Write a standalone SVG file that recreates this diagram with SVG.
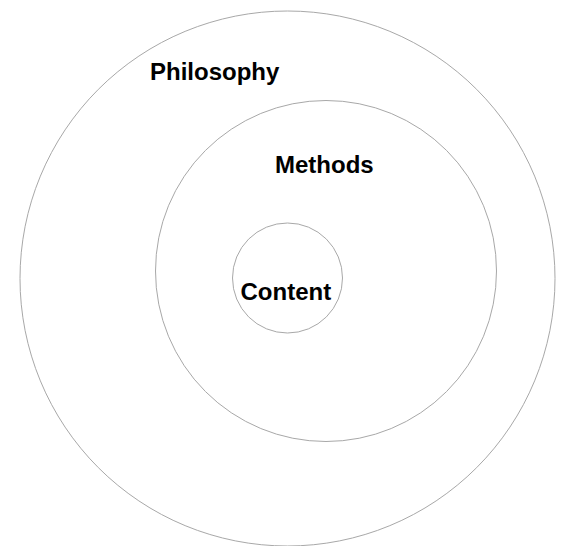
<svg xmlns="http://www.w3.org/2000/svg" width="565" height="546" viewBox="0 0 565 546">
  <style>
    .ring { fill: none; stroke: #a8a8a8; stroke-width: 1; }
    .label { font-family: "Liberation Sans", Arial, sans-serif; font-weight: bold; font-size: 24px; fill: #000; }
  </style>
  <rect width="565" height="546" fill="#fff"/>
  <g id="philosophy">
    <circle class="ring" cx="287.5" cy="278.5" r="267.5"/>
    <text class="label" x="150" y="79.5">Philosophy</text>
  </g>
  <g id="methods">
    <circle class="ring" cx="326" cy="271" r="170.5"/>
    <text class="label" x="275" y="172.5">Methods</text>
  </g>
  <g id="content">
    <circle class="ring" cx="287.5" cy="278" r="55"/>
    <text class="label" x="240.5" y="299.5">Content</text>
  </g>
  <g id="connectors"/>
</svg>
